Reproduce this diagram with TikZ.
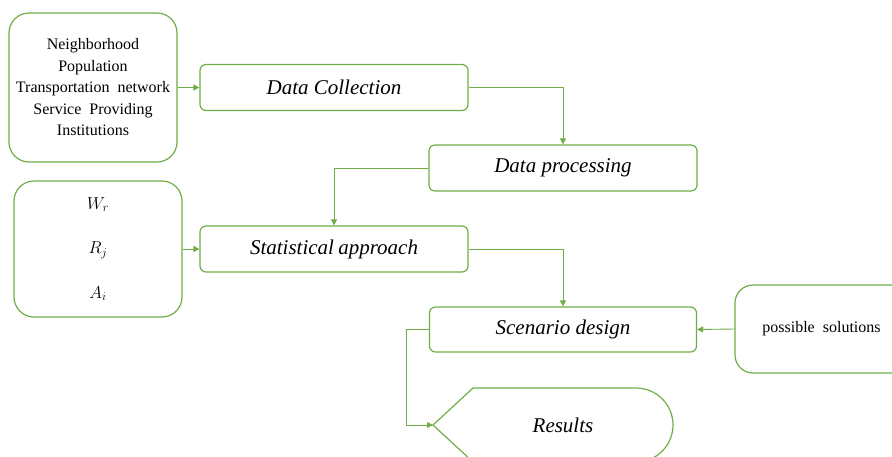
\documentclass[tikz,border=0pt]{standalone}
\usepackage{fontspec}
\setmainfont{Liberation Serif}
\usetikzlibrary{arrows.meta}
\definecolor{grn}{RGB}{112,173,71}
\begin{document}
\begin{tikzpicture}[x=1pt,y=-1pt,
  box/.style={draw=grn,line width=1.2pt,rounded corners=6pt,minimum width=268pt,minimum height=46pt,inner sep=0pt,font=\fontsize{21}{25}\selectfont\itshape},
  srcbox/.style={draw=grn,line width=1.2pt,rounded corners=20pt,inner sep=0pt,align=center,font=\fontsize{16}{21.5}\selectfont},
  conn/.style={draw=grn,line width=0.9pt,-{Triangle[length=6pt,width=6pt]}}]
\useasboundingbox (0,0) rectangle (892,456);
\clip (0,0) rectangle (892,456);
% source boxes
\node[srcbox,minimum width=168pt,minimum height=149pt] (src1) at (93,87.5)
  {Neighborhood\\Population\\Transportation\ \ network\\Service\ \ Providing\\Institutions};
\node[srcbox,minimum width=168pt,minimum height=136pt,font=\fontsize{17}{21.5}\selectfont] (src2) at (98,249)
  {$W_r$\\[23pt]$R_j$\\[23pt]$A_i$};
\node[srcbox,rounded corners=18pt,minimum width=173pt,minimum height=88pt] (src3) at (821.5,329)
  {possible\ \ solutions};
% process boxes
\node[box] (dc) at (334,87.5) {Data Collection};
\node[box] (dp) at (563,168) {Data processing};
\node[box] (sa) at (334,249) {Statistical\kern-1pt\ approach};
\node[box,minimum width=267pt,minimum height=45pt] (sd) at (563,329.5) {Scenario design};
% results display shape
\draw[grn,line width=1.2pt] (433,425) -- (473,388) -- (636,388) arc[start angle=-90,end angle=90,radius=37] -- (473,462) -- cycle;
\coordinate (resL) at (433,425);
\node[font=\fontsize{21}{25}\selectfont\itshape] (res) at (563,425) {Results};
% connectors
\draw[conn] (src1.east) -- (dc.west);
\draw[conn] (dc.east) -| (dp.north);
\draw[conn] (dp.west) -| (sa.north);
\draw[conn] (src2.east) -- (sa.west);
\draw[conn] (sa.east) -| (sd.north);
\draw[conn] (src3.west) -- (sd.east);
\draw[conn] (sd.west) -- ++(-22,0) |- (resL);
\end{tikzpicture}
\end{document}
